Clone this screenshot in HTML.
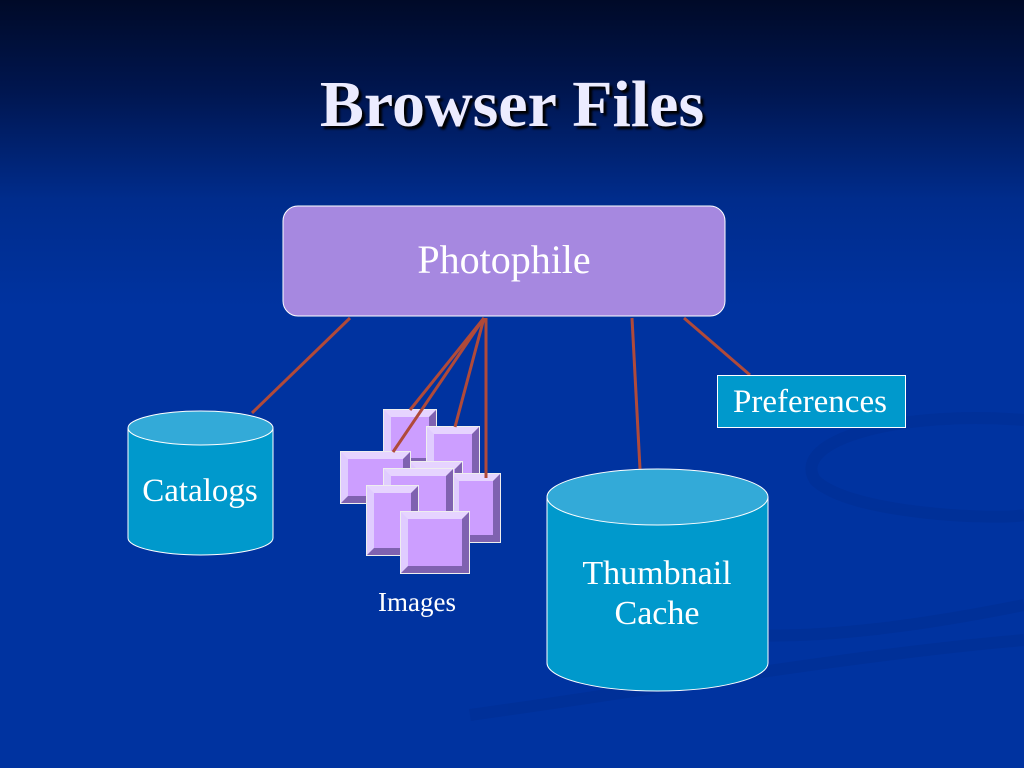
<!DOCTYPE html>
<html><head><meta charset="utf-8"><style>
body{margin:0;width:1024px;height:768px;overflow:hidden;background:linear-gradient(180deg,#000a28 0%,#001650 12%,#002c8c 26%,#0033a0 40%,#0033a0 100%);font-family:"Liberation Serif",serif;position:relative}
.t{position:absolute;left:0;width:1024px;text-align:center;top:67px;font-size:66px;font-weight:bold;color:#ececff;text-shadow:3px 3px 2px #000}
.sq{position:absolute;box-sizing:border-box;border:7px solid;border-color:#e6d4ff #7f62b0 #7f62b0 #e0ccff;background:#cc9eff;outline:1px solid #eee}
</style></head><body>
<svg width="1024" height="768" style="position:absolute;left:0;top:0">
<g fill="none" stroke="#002f94" stroke-width="12" opacity="0.6">
<path d="M1024 420 C900 410 790 440 815 480 C850 515 1000 520 1024 515"/>
<path d="M560 610 C700 640 800 650 1024 605"/>
<path d="M470 715 C650 690 850 655 1024 640"/>
</g>
<g stroke="#b04a3a" stroke-width="3">
<line x1="350" y1="318" x2="252" y2="413"/>
<line x1="632" y1="318" x2="640" y2="469"/>
<line x1="684" y1="318" x2="750" y2="375"/>
</g>
<rect x="283" y="206" width="442" height="110" rx="15" fill="#a688e0" stroke="#fff" stroke-width="1"/>
<text x="504" y="273" font-size="40" fill="#fff" text-anchor="middle" font-family="Liberation Serif">Photophile</text>
<path d="M128 428 V538 A72.5 17 0 0 0 273 538 V428" fill="#0099cc" stroke="#fff"/>
<ellipse cx="200.5" cy="428" rx="72.5" ry="17" fill="#33aad8" stroke="#fff"/>
<text x="200" y="501" font-size="33" fill="#fff" text-anchor="middle" font-family="Liberation Serif">Catalogs</text>
<path d="M547 497 V663 A110.5 28 0 0 0 768 663 V497" fill="#0099cc" stroke="#fff"/>
<ellipse cx="657.5" cy="497" rx="110.5" ry="28" fill="#33aad8" stroke="#fff"/>
<text x="657" y="584" font-size="34" fill="#fff" text-anchor="middle" font-family="Liberation Serif">Thumbnail</text>
<text x="657" y="624" font-size="34" fill="#fff" text-anchor="middle" font-family="Liberation Serif">Cache</text>
<rect x="717.5" y="375.5" width="188" height="52" fill="#0099cc" stroke="#fff"/>
<text x="810" y="412" font-size="33" fill="#fff" text-anchor="middle" font-family="Liberation Serif">Preferences</text>
<text x="417" y="611" font-size="27" fill="#fff" text-anchor="middle" font-family="Liberation Serif">Images</text>
</svg>
<div class="t">Browser Files</div>
<div class="sq" style="left:384px;top:410px;width:52px;height:55px"></div>
<div class="sq" style="left:427px;top:427px;width:52px;height:55px"></div>
<div class="sq" style="left:410px;top:462px;width:52px;height:50px"></div>
<div class="sq" style="left:341px;top:452px;width:69px;height:51px"></div>
<div class="sq" style="left:452px;top:474px;width:48px;height:68px"></div>
<div class="sq" style="left:384px;top:469px;width:69px;height:62px"></div>
<div class="sq" style="left:367px;top:486px;width:51px;height:69px"></div>
<div class="sq" style="left:401px;top:512px;width:68px;height:61px"></div>
<svg width="1024" height="768" style="position:absolute;left:0;top:0">
<g stroke="#b04a3a" stroke-width="3">
<line x1="484" y1="318" x2="410" y2="410"/>
<line x1="484" y1="318" x2="393" y2="452"/>
<line x1="484" y1="318" x2="455" y2="427"/>
<line x1="486" y1="318" x2="486" y2="478"/>
</g>
</svg>
</body></html>
